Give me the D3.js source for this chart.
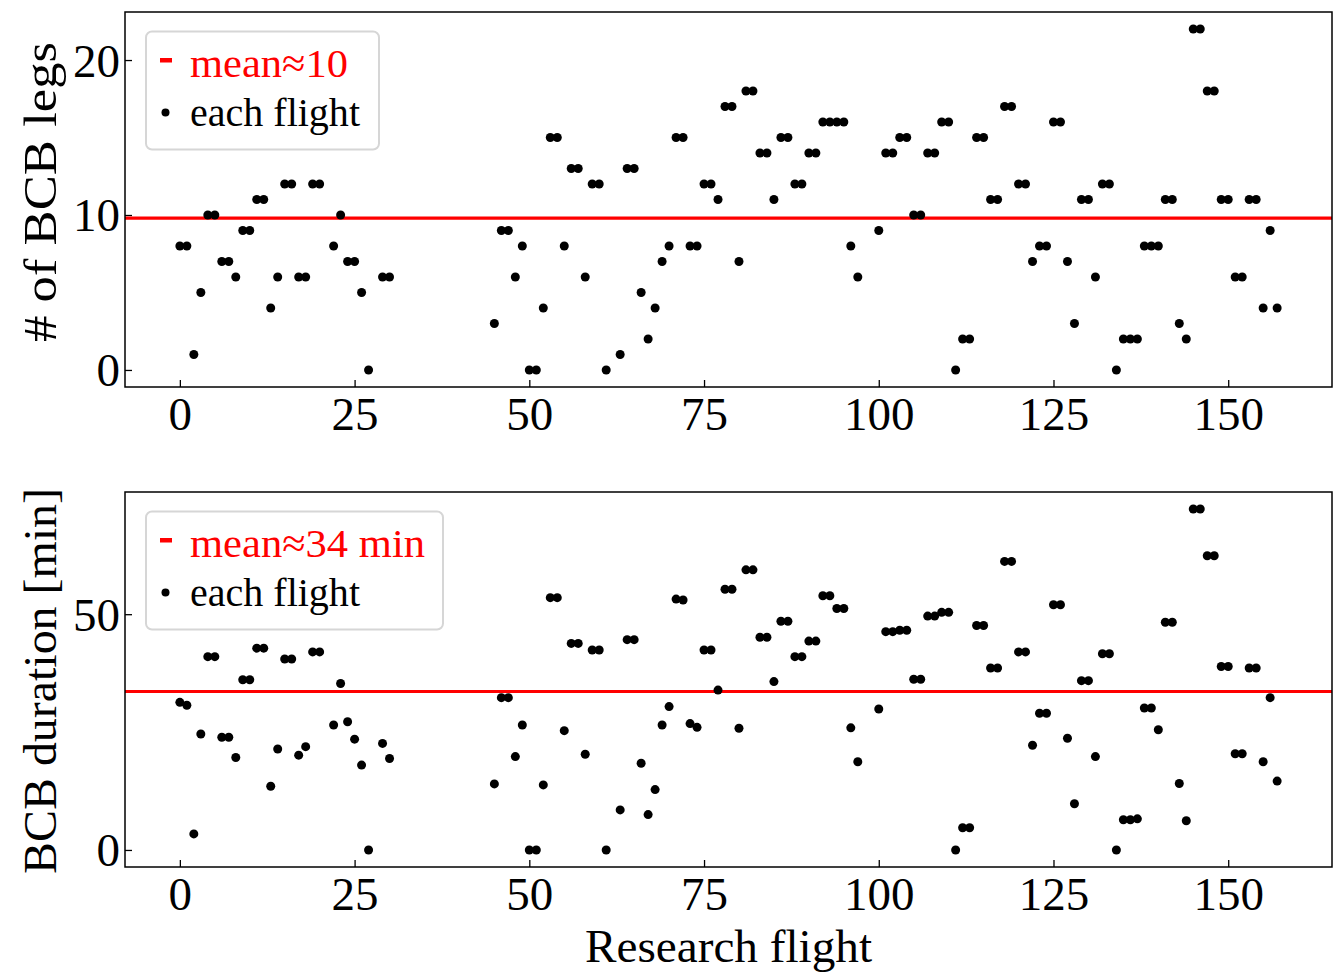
<!DOCTYPE html>
<html>
<head>
<meta charset="utf-8">
<script src="https://cdn.jsdelivr.net/npm/d3@7"></script>
<style>
  html, body { margin: 0; padding: 0; background: #fff; }
  svg { display: block; font-family: "Liberation Serif", "DejaVu Serif", serif; }
</style>
</head>
<body>
<div id="chart"></div>
<script>
// research flight numbers (gaps = no flight)
const flightIds = [
  0,1,2,3,4,5,6,7,8,9,10,11,12,13,14,15,16,17,18,19,20,
  22,23,24,25,26,27,29,30,
  45,46,47,48,49,50,51,52,53,54,55,56,57,58,59,60,61,
  63,64,65,66,67,68,69,70,71,72,73,74,75,76,77,78,79,80,81,82,83,84,85,86,87,88,89,90,91,92,93,94,95,96,97,
  100,101,102,103,104,105,106,107,108,109,110,111,112,113,114,115,116,117,118,119,120,121,122,123,124,125,
  126,127,128,129,130,131,132,133,134,135,136,137,138,139,140,141,142,143,144,145,146,147,148,149,150,151,
  152,153,154,155,156,157
];

const bcbLegs = [
  8,8,1,5,10,10,7,7,6,9,9,11,11,4,6,12,12,6,6,12,12,
  8,10,7,7,5,0,6,6,
  3,9,9,6,8,0,0,4,15,15,8,13,13,6,12,12,0,
  1,13,13,5,2,4,7,8,15,15,8,8,12,12,11,17,17,7,18,18,14,14,11,15,15,12,12,14,14,16,16,16,16,8,6,
  9,14,14,15,15,10,10,14,14,16,16,0,2,2,15,15,11,11,17,17,12,12,7,8,8,16,16,7,3,11,
  11,6,12,12,0,2,2,2,8,8,8,11,11,3,2,22,22,18,18,11,11,6,6,11,11,4,9,4
];

const bcbDuration = [
  31.3,30.7,3.4,24.6,41.0,41.0,23.9,23.9,19.6,36.1,36.1,42.8,42.8,13.5,21.4,40.5,40.5,20.1,21.9,42.0,42.0,
  26.5,35.3,27.2,23.5,18.0,0,22.6,19.4,
  14.0,32.3,32.3,19.8,26.5,0,0,13.8,53.5,53.5,25.3,43.8,43.8,20.3,42.4,42.4,0,
  8.5,44.6,44.6,18.4,7.5,12.8,26.5,30.4,53.2,53.0,26.8,26.0,42.4,42.4,33.9,55.3,55.3,25.8,59.4,59.4,
  45.1,45.1,35.7,48.5,48.5,41.0,41.0,44.3,44.3,53.9,53.9,51.2,51.2,25.9,18.7,
  29.9,46.3,46.3,46.6,46.6,36.2,36.2,49.6,49.6,50.4,50.4,0,4.7,4.7,47.6,47.6,38.6,38.6,61.2,61.2,
  42.0,42.0,22.2,29.0,29.0,52.0,52.0,23.7,9.8,35.9,35.9,19.8,41.6,41.6,0,6.4,6.4,6.6,30.1,30.1,
  25.5,48.3,48.3,14.1,6.2,72.3,72.3,62.4,62.4,38.9,38.9,20.4,20.4,38.6,38.6,18.7,32.3,14.6
];

const meanLegs = 9.8;
const meanDuration = 33.6;
const xTicks = [0, 25, 50, 75, 100, 125, 150];
const legsTicks = [0, 10, 20];
const durationTicks = [0, 50];

const W = 1335, H = 973;
const left = 125, right = 1332;

const svg = d3.select("#chart").append("svg")
  .attr("width", W).attr("height", H);

// matplotlib-like 5% padding on the data range
const pad = ext => { const m = (ext[1] - ext[0]) * 0.05; return [ext[0] - m, ext[1] + m]; };

const x = d3.scaleLinear().domain(pad(d3.extent(flightIds))).range([left, right]);

function styleAxis(sel) {
  sel.attr("font-family", null).attr("font-size", null);
  sel.select(".domain").remove();
  sel.selectAll(".tick line").attr("stroke", "#000").attr("stroke-width", 1.3);
  sel.selectAll(".tick text").attr("font-size", 47).attr("fill", "#000");
}

function drawPanel(opts) {
  const { top, bottom, values, ticks, mean, label, labelY, labelLen, legendText, legendLen } = opts;
  const y = d3.scaleLinear().domain(pad(d3.extent(values))).range([bottom, top]);
  const g = svg.append("g");

  // axes (inward ticks)
  const xa = g.append("g").attr("transform", `translate(0,${bottom})`)
    .call(d3.axisBottom(x).tickValues(xTicks).tickSizeInner(-7).tickSizeOuter(0))
    .call(styleAxis);
  xa.selectAll(".tick text").attr("y", 43).attr("dy", null);

  const ya = g.append("g").attr("transform", `translate(${left},0)`)
    .call(d3.axisLeft(y).tickValues(ticks).tickSizeInner(-7).tickSizeOuter(0))
    .call(styleAxis);
  ya.selectAll(".tick text").attr("x", -5).attr("dy", "0.34em");

  // mean line
  g.append("line")
    .attr("x1", left).attr("x2", right)
    .attr("y1", y(mean)).attr("y2", y(mean))
    .attr("stroke", "#ff0000").attr("stroke-width", 3.2);

  // each flight
  g.append("g").selectAll("circle")
    .data(flightIds.map((f, i) => ({ f, v: values[i] })))
    .join("circle")
    .attr("cx", d => x(d.f)).attr("cy", d => y(d.v))
    .attr("r", 4.5).attr("fill", "#000");

  // frame
  g.append("rect")
    .attr("x", left).attr("y", top)
    .attr("width", right - left).attr("height", bottom - top)
    .attr("fill", "none").attr("stroke", "#000").attr("stroke-width", 1.5);

  // y label
  g.append("text")
    .attr("transform", `translate(56,${labelY}) rotate(-90)`)
    .attr("text-anchor", "middle").attr("font-size", 47)
    .attr("textLength", labelLen).attr("lengthAdjust", "spacingAndGlyphs")
    .text(label);

  // legend
  const lg = g.append("g");
  lg.append("rect")
    .attr("x", 146).attr("y", top + 19.5)
    .attr("width", 190 + legendLen + 17 - 146)
    .attr("height", 118).attr("rx", 6)
    .attr("fill", "rgba(255,255,255,0.8)")
    .attr("stroke", "#d6d6d6").attr("stroke-width", 2);
  lg.append("rect")
    .attr("x", 160).attr("y", top + 46)
    .attr("width", 12).attr("height", 4.5)
    .attr("fill", "#ff0000");
  lg.append("text")
    .attr("x", 190).attr("y", top + 64.5)
    .attr("font-size", 41).attr("fill", "#ff0000")
    .attr("textLength", legendText === "mean\u224810" ? 158 : 235)
    .attr("lengthAdjust", "spacingAndGlyphs")
    .text(legendText);
  lg.append("circle")
    .attr("cx", 165.5).attr("cy", top + 100.5).attr("r", 4).attr("fill", "#000");
  lg.append("text")
    .attr("x", 190).attr("y", top + 114)
    .attr("font-size", 41).attr("fill", "#000")
    .attr("textLength", 170).attr("lengthAdjust", "spacingAndGlyphs")
    .text("each flight");
}

drawPanel({
  top: 12, bottom: 387, values: bcbLegs, ticks: legsTicks, mean: meanLegs,
  label: "# of BCB legs", labelY: 192, labelLen: 300,
  legendText: "mean\u224810", legendLen: 172
});

drawPanel({
  top: 492, bottom: 867, values: bcbDuration, ticks: durationTicks, mean: meanDuration,
  label: "BCB duration [min]", labelY: 681, labelLen: 386,
  legendText: "mean\u224834 min", legendLen: 236
});

svg.append("text")
  .attr("x", (left + right) / 2).attr("y", 962)
  .attr("text-anchor", "middle").attr("font-size", 47)
  .attr("textLength", 287).attr("lengthAdjust", "spacingAndGlyphs")
  .text("Research flight");
</script>
</body>
</html>
